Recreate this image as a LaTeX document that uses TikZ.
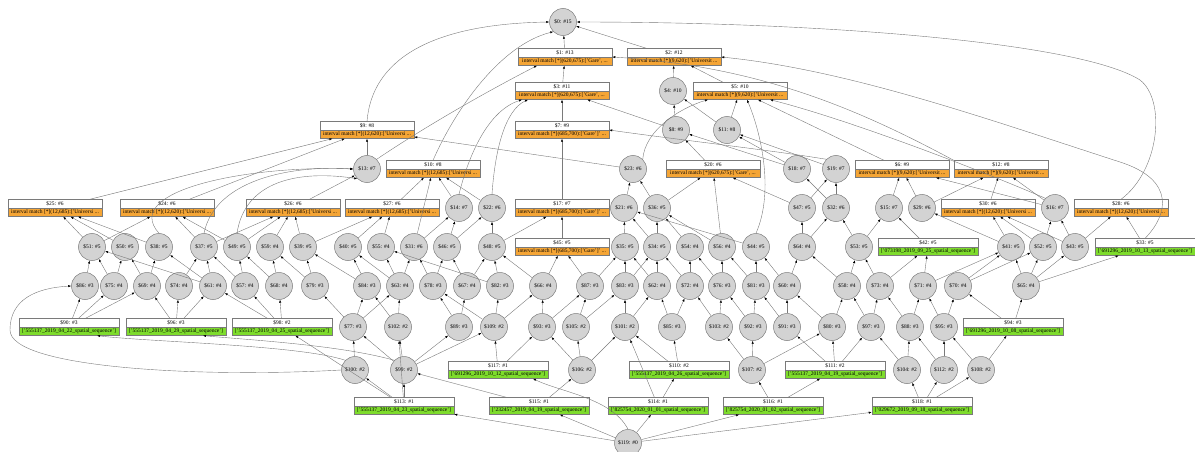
\documentclass[tikz,border=0pt]{standalone}
\usepackage{fontspec}
\setmainfont{Liberation Serif}
\usetikzlibrary{shapes.multipart,arrows.meta}
\definecolor{orfill}{HTML}{F5A535}
\definecolor{grfill}{HTML}{7EDC2C}
\definecolor{cfill}{HTML}{D3D3D3}
\definecolor{lgray}{HTML}{7A7A7A}
\tikzset{
  cnode/.style={circle,draw=lgray,fill=cfill,line width=0.5pt,minimum size=27pt,inner sep=0pt,
    font=\fontsize{5.5}{6.5}\selectfont},
  qbox/.style={rectangle split,rectangle split parts=2,draw=lgray,line width=0.5pt,
    font=\fontsize{5.5}{6.5}\selectfont,minimum width=#1,align=center,inner xsep=1.5pt,inner ysep=1.3pt},
  edge/.style={draw=lgray,line width=0.4pt,-{Latex[length=3pt,width=2.2pt,color=black]}},
}
% circle node: id, x, y, count
\newcommand\cn[4]{\node[cnode] (n#1) at (#2,#3) {\$#1: \##4};}
% orange query box: id, x, y, count, text
\newcommand\ob[5]{\node[qbox=94pt,rectangle split part fill={white,orfill}] (n#1) at (#2,#3)
  {\rule[-1.4pt]{0pt}{5pt}\$#1: \##4\nodepart{two}\rule[-1.4pt]{0pt}{5pt}#5};}
% green sequence box: id, x, y, count, text
\newcommand\gb[5]{\node[qbox=100pt,rectangle split part fill={white,grfill}] (n#1) at (#2,#3)
  {\rule[-1.4pt]{0pt}{5pt}\$#1: \##4\nodepart{two}\rule[-1.4pt]{0pt}{5pt}#5};}
\newcommand\gare{interval match [*](620,675):['Gare', ...}
\newcommand\garetwo{interval match [*](685,700):['Gare']' ...}
\newcommand\univa{interval match [*](9,620):['Universit ...}
\newcommand\univb{interval match [*](12,620):['Universi ...}
\newcommand\univc{interval match [*](12,685):['Universi ...}
\begin{document}
\begin{tikzpicture}[x=1pt,y=-1pt]
\useasboundingbox (0,0) rectangle (1195,452);
% ---- upper lattice
\cn{0}{563}{22}{15}
\ob{1}{565}{57}{13}{\gare}
\ob{2}{674}{57}{12}{\univa}
\ob{3}{562}{91}{11}{\gare}
\cn{4}{673}{91}{10}
\ob{5}{740}{91}{10}{\univa}
\ob{9}{367}{130}{8}{\univb}
\ob{7}{562}{130}{9}{\garetwo}
\cn{8}{676}{130}{9}
\cn{11}{727}{130}{8}
\cn{13}{367}{169}{7}
\ob{10}{433}{169}{8}{\univc}
\cn{23}{633}{169}{6}
\ob{20}{713}{169}{6}{\gare}
\cn{18}{797}{169}{7}
\cn{19}{836}{169}{7}
\ob{6}{902}{169}{9}{\univa}
\ob{12}{1001}{169}{8}{\univa}
% ---- row y=208
\ob{25}{55}{208}{6}{\univc}
\ob{24}{167}{208}{6}{\univb}
\ob{26}{293}{208}{6}{\univc}
\ob{27}{392}{208}{6}{\univc}
\cn{14}{459}{208}{7}
\cn{22}{492}{208}{6}
\ob{17}{562}{208}{7}{\garetwo}
\cn{21}{624}{208}{6}
\cn{36}{657}{208}{5}
\cn{47}{802}{208}{5}
\cn{32}{836}{208}{6}
\cn{15}{889}{208}{7}
\cn{29}{922}{208}{6}
\ob{30}{988}{208}{6}{\univb}
\cn{16}{1055}{208}{7}
\ob{28}{1121}{208}{6}{\univb}
% ---- row y=247
\cn{51}{92}{247}{5}
\cn{50}{125}{247}{5}
\cn{38}{159}{247}{5}
\cn{37}{204}{247}{5}
\cn{49}{237}{247}{5}
\cn{59}{270}{247}{4}
\cn{39}{303}{247}{5}
\cn{40}{348}{247}{5}
\cn{55}{381}{247}{4}
\cn{31}{414}{247}{6}
\cn{46}{447}{247}{5}
\cn{48}{492}{247}{5}
\ob{45}{562}{247}{5}{\garetwo}
\cn{35}{625}{247}{5}
\cn{34}{657}{247}{5}
\cn{54}{690}{247}{4}
\cn{56}{722}{247}{4}
\cn{44}{756}{247}{5}
\cn{64}{802}{247}{4}
\cn{53}{859}{247}{5}
\gb{42}{928}{247}{5}{['073198\_2019\_09\_25\_spatial\_sequence']}
\cn{41}{1011}{247}{5}
\cn{52}{1043}{247}{5}
\cn{43}{1075}{247}{5}
\gb{33}{1145}{247}{5}{['691296\_2019\_10\_13\_spatial\_sequence']}
% ---- row y=286
\cn{86}{85}{286}{3}
\cn{75}{114}{286}{4}
\cn{69}{147}{286}{4}
\cn{74}{179}{286}{4}
\cn{61}{213}{286}{4}
\cn{57}{245}{286}{4}
\cn{68}{279}{286}{4}
\cn{79}{315}{286}{3}
\cn{84}{367}{286}{3}
\cn{63}{400}{286}{4}
\cn{78}{433}{286}{3}
\cn{67}{467}{286}{4}
\cn{82}{500}{286}{3}
\cn{66}{543}{286}{4}
\cn{87}{590}{286}{3}
\cn{83}{625}{286}{3}
\cn{62}{657}{286}{4}
\cn{72}{690}{286}{4}
\cn{76}{722}{286}{3}
\cn{81}{756}{286}{3}
\cn{60}{787}{286}{4}
\cn{58}{847}{286}{4}
\cn{73}{880}{286}{4}
\cn{71}{923}{286}{4}
\cn{70}{958}{286}{4}
\cn{65}{1026}{286}{4}
% ---- row y=327
\gb{90}{69}{327}{3}{['555137\_2019\_04\_22\_spatial\_sequence']}
\gb{96}{176}{327}{3}{['555137\_2019\_04\_29\_spatial\_sequence']}
\gb{98}{282}{327}{2}{['555137\_2019\_04\_25\_spatial\_sequence']}
\cn{77}{353}{327}{3}
\cn{102}{398}{327}{2}
\cn{89}{459}{327}{3}
\cn{109}{494}{327}{2}
\cn{93}{542}{327}{3}
\cn{105}{576}{327}{2}
\cn{101}{625}{327}{2}
\cn{85}{672}{327}{3}
\cn{103}{719}{327}{2}
\cn{92}{753}{327}{3}
\cn{91}{787}{327}{3}
\cn{80}{832}{327}{3}
\cn{97}{871}{327}{3}
\cn{88}{910}{327}{3}
\cn{95}{944}{327}{3}
\gb{94}{1013}{327}{3}{['691296\_2019\_10\_08\_spatial\_sequence']}
% ---- row y=370
\cn{100}{355}{370}{2}
\cn{99}{404}{370}{2}
\gb{117}{498}{370}{1}{['691296\_2019\_10\_12\_spatial\_sequence']}
\cn{106}{582}{370}{2}
\gb{110}{679}{370}{2}{['555137\_2019\_04\_26\_spatial\_sequence']}
\cn{107}{752}{370}{2}
\gb{111}{835}{370}{2}{['555137\_2019\_04\_19\_spatial\_sequence']}
\cn{104}{907}{370}{2}
\cn{112}{944}{370}{2}
\cn{108}{981}{370}{2}
% ---- row y=406
\gb{113}{404}{406}{1}{['555137\_2019\_04\_23\_spatial\_sequence']}
\gb{115}{539}{406}{1}{['232457\_2019\_04\_19\_spatial\_sequence']}
\gb{114}{658}{406}{1}{['825754\_2020\_01\_01\_spatial\_sequence']}
\gb{116}{773}{406}{1}{['825754\_2020\_01\_02\_spatial\_sequence']}
\gb{118}{922}{406}{1}{['029672\_2019\_09\_18\_spatial\_sequence']}
\cn{119}{628}{443}{0}
% ---- straight edges (child/parent)
\foreach \a/\b in {1/0,2/0,3/1,4/2,5/2,7/3,8/3,8/4,11/4,11/5,13/9,20/8,18/8,19/11,18/11,6/5,
  23/9,25/9,24/9,26/13,27/10,14/10,22/10,17/7,21/23,36/23,36/20,47/20,47/19,32/19,32/18,
  15/6,29/12,29/6,30/12,16/12,16/6,
  51/25,51/24,50/25,38/25,37/24,37/26,49/24,49/26,59/26,39/26,39/27,40/27,55/27,31/14,31/10,
  46/14,46/22,48/22,48/17,45/17,35/21,34/21,34/36,54/36,56/36,56/20,44/21,64/47,64/32,53/15,
  53/32,42/15,41/29,41/30,52/30,52/16,43/16,43/28,43/30,33/28,
  86/51,75/51,75/50,69/50,69/38,74/37,61/51,61/38,61/37,57/49,57/37,68/59,68/49,79/59,79/39,
  84/40,84/39,63/55,63/31,63/40,78/31,78/46,67/46,67/48,82/48,82/55,66/45,66/48,87/45,87/35,
  83/35,83/34,62/34,62/35,72/54,72/34,76/56,76/54,81/44,81/56,60/64,60/44,58/53,58/64,73/53,
  73/42,71/41,71/42,70/41,70/52,65/41,65/52,65/43,65/33,
  90/86,90/75,90/69,96/69,96/74,96/61,98/61,98/57,98/68,77/79,77/84,77/63,102/84,102/63,
  89/78,89/67,109/82,109/66,109/78,93/66,93/87,105/87,105/83,101/83,101/62,85/72,85/62,
  103/76,103/72,92/81,92/76,91/81,91/60,80/60,80/58,97/58,97/73,88/73,88/71,95/70,95/71,
  94/70,94/65,
  100/77,99/77,99/89,99/109,99/102,117/109,117/93,106/105,106/93,106/101,110/85,110/101,
  107/92,107/80,107/103,111/91,111/97,111/80,104/88,104/97,112/95,112/88,108/94,108/95,
  113/100,113/99,113/102,113/98,115/106,115/99,114/110,114/101,116/107,116/111,118/112,
  118/108,118/104,119/113,119/114,119/115,119/116,119/118}
  \draw[edge] (n\a) -- (n\b);
% ---- routed edges
\draw[edge] (n9.north) .. controls (372,60) and (430,24) .. (n0.west);
\draw[edge] (n10.north) .. controls (455,110) and (500,45) .. (n0.south west);
\draw[edge] (n13.north east) .. controls (420,130) and (480,95) .. ([xshift=-28pt]n1.south);
\draw[edge] (n28.north) .. controls (1160,170) and (1166,100) .. (1140,80)
  .. controls (1080,42) and (820,22) .. (n0.east);
\draw[edge] (n33.north) .. controls (1168,215) and (1176,180) .. (1120,162)
  .. controls (990,120) and (850,70) .. (n2.east);
\draw[edge] (n12.north west) .. controls (860,110) and (760,66) .. (n1.east);
\draw[edge] (n16.north west) .. controls (980,170) and (850,120) .. ([xshift=30pt]n5.south);
\draw[edge] (n14.north) .. controls (470,150) and (490,110) .. ([xshift=-40pt]n3.south);
\draw[edge] (n22.north) .. controls (495,150) and (505,110) .. ([xshift=-34pt]n3.south);
\draw[edge] (n23.north east) .. controls (645,130) and (680,108) .. ([xshift=-32pt]n5.south);
\draw[edge] (n44.north) .. controls (775,190) and (760,130) .. ([xshift=7pt]n5.south);
\draw[edge] (n19.north west) .. controls (770,150) and (680,140) .. (n7.east);
\draw[edge] (n38.north) .. controls (120,190) and (250,165) .. (n13.west);
\draw[edge] (n37.north) .. controls (215,180) and (290,165) .. (n13.west);
\draw[edge] (n49.north) .. controls (245,180) and (300,170) .. (n13.south west);
\draw[edge] (n100.north west) .. controls (300,345) and (150,342) .. ([xshift=28pt]n90.south);
\draw[edge] (n100.west) .. controls (200,378) and (10,368) .. (10,330)
  .. controls (10,300) and (35,288) .. (n86.west);
\draw[edge] (n99.north west) .. controls (340,345) and (250,340) .. ([xshift=27pt]n96.south);
\draw[edge] (n119.north) .. controls (612,398) and (560,392) .. ([xshift=35pt]n117.south);
\end{tikzpicture}
\end{document}
